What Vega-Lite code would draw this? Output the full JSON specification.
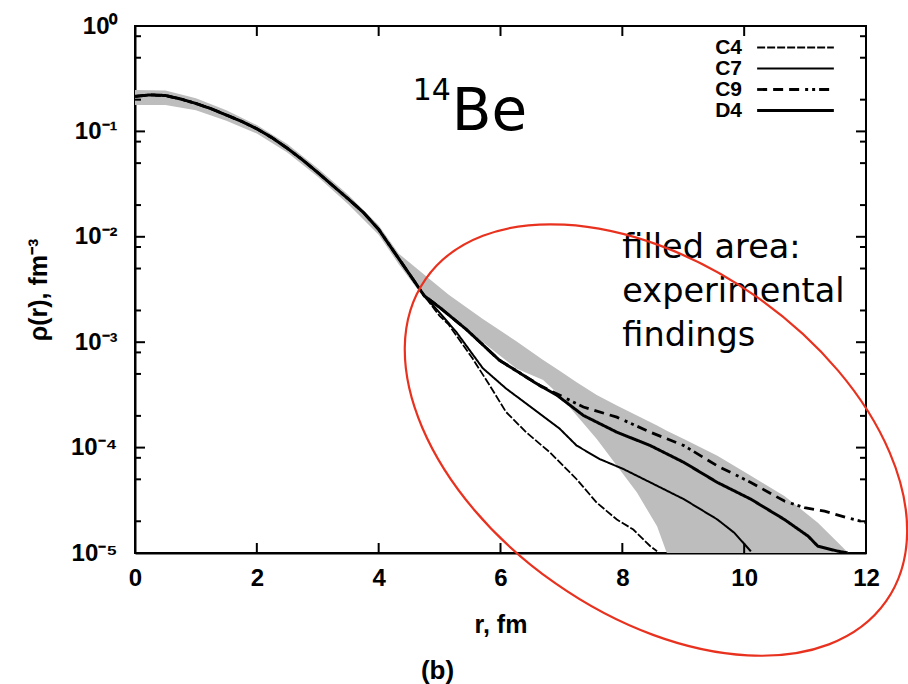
{
  "$schema": "https://vega.github.io/schema/vega-lite/v6.json",
  "width": 731,
  "height": 527,
  "autosize": {"type": "none"},
  "padding": {"left": 135, "top": 26, "right": 42, "bottom": 131},
  "background": "white",
  "title": {
    "text": "(b)",
    "orient": "bottom",
    "anchor": "middle",
    "dx": -63,
    "dy": -6,
    "offset": 4,
    "font": "Liberation Sans",
    "fontWeight": "bold",
    "fontSize": 26,
    "color": "black"
  },
  "config": {
    "view": {"stroke": "black", "strokeWidth": 2},
    "font": "Liberation Sans",
    "rule": {"color": "black", "strokeWidth": 2, "opacity": 1},
    "axis": {
      "grid": false,
      "domainColor": "black",
      "domainWidth": 2,
      "labelColor": "black",
      "labelFont": "Liberation Sans",
      "labelFontWeight": "bold",
      "labelFontSize": 24,
      "labelFlush": false,
      "labelOverlap": false,
      "titleColor": "black",
      "titleFont": "Liberation Sans",
      "titleFontWeight": "bold",
      "titleFontSize": 25
    }
  },
  "datasets": {
    "band": [
      {"r": 0, "lo": 0.178, "hi": 0.247},
      {"r": 0.5, "lo": 0.178, "hi": 0.245},
      {"r": 1.0, "lo": 0.1585, "hi": 0.2065},
      {"r": 1.5, "lo": 0.1259, "hi": 0.1585},
      {"r": 2.0, "lo": 0.0955, "hi": 0.1148},
      {"r": 2.5, "lo": 0.0631, "hi": 0.0759},
      {"r": 3.0, "lo": 0.0372, "hi": 0.0447},
      {"r": 3.5, "lo": 0.0204, "hi": 0.0251},
      {"r": 4.0, "lo": 0.01047, "hi": 0.01288},
      {"r": 4.33, "lo": 0.0055, "hi": 0.00692},
      {"r": 4.77, "lo": 0.00251, "hi": 0.00427},
      {"r": 5.15, "lo": 0.00182, "hi": 0.00282},
      {"r": 5.71, "lo": 0.001, "hi": 0.00166},
      {"r": 6.26, "lo": 0.000562, "hi": 0.001023},
      {"r": 6.7, "lo": 0.000437, "hi": 0.000676},
      {"r": 6.97, "lo": 0.000313, "hi": 0.000537},
      {"r": 7.25, "lo": 0.000202, "hi": 0.000417},
      {"r": 7.58, "lo": 0.0001208, "hi": 0.000316},
      {"r": 7.91, "lo": 0.0000671, "hi": 0.000251},
      {"r": 8.24, "lo": 0.0000374, "hi": 0.000202},
      {"r": 8.57, "lo": 0.00001795, "hi": 0.000162},
      {"r": 8.73, "lo": 0.00001, "hi": 0.0001445},
      {"r": 9.01, "lo": 0.00001, "hi": 0.0001208},
      {"r": 9.56, "lo": 0.00001, "hi": 0.0000838},
      {"r": 10.11, "lo": 0.00001, "hi": 0.000054},
      {"r": 10.66, "lo": 0.00001, "hi": 0.0000348},
      {"r": 11.21, "lo": 0.00001, "hi": 0.00001936},
      {"r": 11.6, "lo": 0.00001, "hi": 0.00001159},
      {"r": 11.71, "lo": 0.00001, "hi": 0.00001}
    ],
    "profiles": [
      {"model": "C4", "r": 0, "rho": 0.215},
      {"model": "C4", "r": 0.25, "rho": 0.222},
      {"model": "C4", "r": 0.5, "rho": 0.219},
      {"model": "C4", "r": 0.75, "rho": 0.203},
      {"model": "C4", "r": 1.0, "rho": 0.1841},
      {"model": "C4", "r": 1.25, "rho": 0.1641},
      {"model": "C4", "r": 1.5, "rho": 0.1429},
      {"model": "C4", "r": 1.75, "rho": 0.1245},
      {"model": "C4", "r": 2.0, "rho": 0.1059},
      {"model": "C4", "r": 2.25, "rho": 0.0871},
      {"model": "C4", "r": 2.5, "rho": 0.0692},
      {"model": "C4", "r": 2.75, "rho": 0.0537},
      {"model": "C4", "r": 3.0, "rho": 0.0407},
      {"model": "C4", "r": 3.25, "rho": 0.0305},
      {"model": "C4", "r": 3.5, "rho": 0.0229},
      {"model": "C4", "r": 3.75, "rho": 0.017},
      {"model": "C4", "r": 4.0, "rho": 0.01175},
      {"model": "C4", "r": 4.25, "rho": 0.00724},
      {"model": "C4", "r": 4.5, "rho": 0.00447},
      {"model": "C4", "r": 4.75, "rho": 0.00275},
      {"model": "C4", "r": 5.0, "rho": 0.001778},
      {"model": "C4", "r": 5.15, "rho": 0.001466},
      {"model": "C4", "r": 5.54, "rho": 0.000703},
      {"model": "C4", "r": 5.82, "rho": 0.000391},
      {"model": "C4", "r": 6.09, "rho": 0.000218},
      {"model": "C4", "r": 6.42, "rho": 0.00014},
      {"model": "C4", "r": 6.81, "rho": 0.0000902},
      {"model": "C4", "r": 7.25, "rho": 0.0000501},
      {"model": "C4", "r": 7.58, "rho": 0.00003},
      {"model": "C4", "r": 7.91, "rho": 0.0000208},
      {"model": "C4", "r": 8.18, "rho": 0.0000167},
      {"model": "C4", "r": 8.46, "rho": 0.00001159},
      {"model": "C4", "r": 8.57, "rho": 0.00001037},

      {"model": "C7", "r": 0, "rho": 0.215},
      {"model": "C7", "r": 0.25, "rho": 0.222},
      {"model": "C7", "r": 0.5, "rho": 0.219},
      {"model": "C7", "r": 0.75, "rho": 0.203},
      {"model": "C7", "r": 1.0, "rho": 0.1841},
      {"model": "C7", "r": 1.25, "rho": 0.1641},
      {"model": "C7", "r": 1.5, "rho": 0.1429},
      {"model": "C7", "r": 1.75, "rho": 0.1245},
      {"model": "C7", "r": 2.0, "rho": 0.1059},
      {"model": "C7", "r": 2.25, "rho": 0.0871},
      {"model": "C7", "r": 2.5, "rho": 0.0692},
      {"model": "C7", "r": 2.75, "rho": 0.0537},
      {"model": "C7", "r": 3.0, "rho": 0.0407},
      {"model": "C7", "r": 3.25, "rho": 0.0305},
      {"model": "C7", "r": 3.5, "rho": 0.0229},
      {"model": "C7", "r": 3.75, "rho": 0.017},
      {"model": "C7", "r": 4.0, "rho": 0.01175},
      {"model": "C7", "r": 4.25, "rho": 0.00724},
      {"model": "C7", "r": 4.5, "rho": 0.00447},
      {"model": "C7", "r": 4.75, "rho": 0.00275},
      {"model": "C7", "r": 5.0, "rho": 0.001905},
      {"model": "C7", "r": 5.27, "rho": 0.001259},
      {"model": "C7", "r": 5.71, "rho": 0.000566},
      {"model": "C7", "r": 6.09, "rho": 0.000364},
      {"model": "C7", "r": 6.53, "rho": 0.000235},
      {"model": "C7", "r": 6.97, "rho": 0.0001514},
      {"model": "C7", "r": 7.25, "rho": 0.0001045},
      {"model": "C7", "r": 7.63, "rho": 0.0000778},
      {"model": "C7", "r": 8.02, "rho": 0.0000625},
      {"model": "C7", "r": 8.46, "rho": 0.0000467},
      {"model": "C7", "r": 9.01, "rho": 0.0000324},
      {"model": "C7", "r": 9.56, "rho": 0.0000208},
      {"model": "C7", "r": 9.84, "rho": 0.00001552},
      {"model": "C7", "r": 10.11, "rho": 0.00001037},

      {"model": "C9", "r": 0, "rho": 0.215},
      {"model": "C9", "r": 0.25, "rho": 0.222},
      {"model": "C9", "r": 0.5, "rho": 0.219},
      {"model": "C9", "r": 0.75, "rho": 0.203},
      {"model": "C9", "r": 1.0, "rho": 0.1841},
      {"model": "C9", "r": 1.25, "rho": 0.1641},
      {"model": "C9", "r": 1.5, "rho": 0.1429},
      {"model": "C9", "r": 1.75, "rho": 0.1245},
      {"model": "C9", "r": 2.0, "rho": 0.1059},
      {"model": "C9", "r": 2.25, "rho": 0.0871},
      {"model": "C9", "r": 2.5, "rho": 0.0692},
      {"model": "C9", "r": 2.75, "rho": 0.0537},
      {"model": "C9", "r": 3.0, "rho": 0.0407},
      {"model": "C9", "r": 3.25, "rho": 0.0305},
      {"model": "C9", "r": 3.5, "rho": 0.0229},
      {"model": "C9", "r": 3.75, "rho": 0.017},
      {"model": "C9", "r": 4.0, "rho": 0.01175},
      {"model": "C9", "r": 4.25, "rho": 0.00724},
      {"model": "C9", "r": 4.5, "rho": 0.00447},
      {"model": "C9", "r": 4.75, "rho": 0.00275},
      {"model": "C9", "r": 5.0, "rho": 0.00214},
      {"model": "C9", "r": 5.44, "rho": 0.00132},
      {"model": "C9", "r": 5.98, "rho": 0.000676},
      {"model": "C9", "r": 6.42, "rho": 0.000468},
      {"model": "C9", "r": 6.64, "rho": 0.000391},
      {"model": "C9", "r": 7.36, "rho": 0.0002427},
      {"model": "C9", "r": 7.91, "rho": 0.0001945},
      {"model": "C9", "r": 8.46, "rho": 0.00014},
      {"model": "C9", "r": 9.01, "rho": 0.0001045},
      {"model": "C9", "r": 9.56, "rho": 0.0000671},
      {"model": "C9", "r": 10.11, "rho": 0.0000467},
      {"model": "C9", "r": 10.66, "rho": 0.0000311},
      {"model": "C9", "r": 10.99, "rho": 0.0000269},
      {"model": "C9", "r": 11.32, "rho": 0.0000249},
      {"model": "C9", "r": 11.71, "rho": 0.0000215},
      {"model": "C9", "r": 12.0, "rho": 0.0000195},

      {"model": "D4", "r": 0, "rho": 0.215},
      {"model": "D4", "r": 0.25, "rho": 0.222},
      {"model": "D4", "r": 0.5, "rho": 0.219},
      {"model": "D4", "r": 0.75, "rho": 0.203},
      {"model": "D4", "r": 1.0, "rho": 0.1841},
      {"model": "D4", "r": 1.25, "rho": 0.1641},
      {"model": "D4", "r": 1.5, "rho": 0.1429},
      {"model": "D4", "r": 1.75, "rho": 0.1245},
      {"model": "D4", "r": 2.0, "rho": 0.1059},
      {"model": "D4", "r": 2.25, "rho": 0.0871},
      {"model": "D4", "r": 2.5, "rho": 0.0692},
      {"model": "D4", "r": 2.75, "rho": 0.0537},
      {"model": "D4", "r": 3.0, "rho": 0.0407},
      {"model": "D4", "r": 3.25, "rho": 0.0305},
      {"model": "D4", "r": 3.5, "rho": 0.0229},
      {"model": "D4", "r": 3.75, "rho": 0.017},
      {"model": "D4", "r": 4.0, "rho": 0.01175},
      {"model": "D4", "r": 4.25, "rho": 0.00724},
      {"model": "D4", "r": 4.5, "rho": 0.00447},
      {"model": "D4", "r": 4.75, "rho": 0.00275},
      {"model": "D4", "r": 5.0, "rho": 0.00214},
      {"model": "D4", "r": 5.44, "rho": 0.00132},
      {"model": "D4", "r": 5.98, "rho": 0.000676},
      {"model": "D4", "r": 6.42, "rho": 0.000468},
      {"model": "D4", "r": 6.64, "rho": 0.000389},
      {"model": "D4", "r": 6.92, "rho": 0.000316},
      {"model": "D4", "r": 7.36, "rho": 0.000202},
      {"model": "D4", "r": 7.91, "rho": 0.00014},
      {"model": "D4", "r": 8.46, "rho": 0.0001045},
      {"model": "D4", "r": 9.01, "rho": 0.0000724},
      {"model": "D4", "r": 9.56, "rho": 0.0000467},
      {"model": "D4", "r": 10.11, "rho": 0.0000324},
      {"model": "D4", "r": 10.66, "rho": 0.0000208},
      {"model": "D4", "r": 11.05, "rho": 0.00001445},
      {"model": "D4", "r": 11.21, "rho": 0.00001159},
      {"model": "D4", "r": 11.54, "rho": 0.0000104},
      {"model": "D4", "r": 11.7, "rho": 0.00001}
    ],
    "xTicks": [{"r": 2}, {"r": 4}, {"r": 6}, {"r": 8}, {"r": 10}],
    "yMajor": [{"rho": 0.1}, {"rho": 0.01}, {"rho": 0.001}, {"rho": 0.0001}],
    "yMinor": [
      {"rho": 0.8}, {"rho": 0.5}, {"rho": 0.2},
      {"rho": 0.08}, {"rho": 0.05}, {"rho": 0.02},
      {"rho": 0.008}, {"rho": 0.005}, {"rho": 0.002},
      {"rho": 0.0008}, {"rho": 0.0005}, {"rho": 0.0002},
      {"rho": 0.00008}, {"rho": 0.00005}, {"rho": 0.00002}
    ]
  },
  "layer": [
    {
      "data": {"name": "band"},
      "mark": {"type": "area", "color": "#bdbdbd", "clip": true},
      "encoding": {
        "x": {
          "field": "r",
          "type": "quantitative",
          "scale": {"domain": [0, 12], "nice": false},
          "axis": {
            "orient": "bottom",
            "values": [0, 2, 4, 6, 8, 10, 12],
            "ticks": false,
            "labelPadding": 13,
            "title": "r, fm",
            "titlePadding": 22
          }
        },
        "y": {
          "field": "lo",
          "type": "quantitative",
          "scale": {"type": "log", "domain": [0.00001, 1], "nice": false},
          "axis": {
            "orient": "left",
            "values": [1, 0.1, 0.01, 0.001, 0.0001, 0.00001],
            "labelExpr": "datum.value == 1 ? '10⁰' : datum.value == 0.1 ? '10⁻¹' : datum.value == 0.01 ? '10⁻²' : datum.value == 0.001 ? '10⁻³' : datum.value == 0.0001 ? '10⁻⁴' : '10⁻⁵'",
            "ticks": false,
            "labelPadding": 18,
            "title": "ρ(r), fm⁻³",
            "titlePadding": 19
          }
        },
        "y2": {"field": "hi"}
      }
    },
    {
      "data": {"name": "xTicks"},
      "mark": {"type": "rule"},
      "encoding": {
        "x": {"field": "r", "type": "quantitative", "scale": {"domain": [0, 12], "nice": false}, "axis": null},
        "y": {"datum": 0.00001, "type": "quantitative", "scale": {"type": "log", "domain": [0.00001, 1], "nice": false}, "axis": null},
        "y2": {"datum": 0.00001244}
      }
    },
    {
      "data": {"name": "xTicks"},
      "mark": {"type": "rule"},
      "encoding": {
        "x": {"field": "r", "type": "quantitative", "scale": {"domain": [0, 12], "nice": false}, "axis": null},
        "y": {"datum": 1, "type": "quantitative", "scale": {"type": "log", "domain": [0.00001, 1], "nice": false}, "axis": null},
        "y2": {"datum": 0.8037}
      }
    },
    {
      "data": {"name": "yMajor"},
      "mark": {"type": "rule"},
      "encoding": {
        "x": {"datum": 0, "type": "quantitative", "scale": {"domain": [0, 12], "nice": false}, "axis": null},
        "x2": {"datum": 0.164},
        "y": {"field": "rho", "type": "quantitative", "scale": {"type": "log", "domain": [0.00001, 1], "nice": false}, "axis": null}
      }
    },
    {
      "data": {"name": "yMajor"},
      "mark": {"type": "rule"},
      "encoding": {
        "x": {"datum": 12, "type": "quantitative", "scale": {"domain": [0, 12], "nice": false}, "axis": null},
        "x2": {"datum": 11.836},
        "y": {"field": "rho", "type": "quantitative", "scale": {"type": "log", "domain": [0.00001, 1], "nice": false}, "axis": null}
      }
    },
    {
      "data": {"name": "yMinor"},
      "mark": {"type": "rule"},
      "encoding": {
        "x": {"datum": 0, "type": "quantitative", "scale": {"domain": [0, 12], "nice": false}, "axis": null},
        "x2": {"datum": 0.0985},
        "y": {"field": "rho", "type": "quantitative", "scale": {"type": "log", "domain": [0.00001, 1], "nice": false}, "axis": null}
      }
    },
    {
      "data": {"name": "yMinor"},
      "mark": {"type": "rule"},
      "encoding": {
        "x": {"datum": 12, "type": "quantitative", "scale": {"domain": [0, 12], "nice": false}, "axis": null},
        "x2": {"datum": 11.9015},
        "y": {"field": "rho", "type": "quantitative", "scale": {"type": "log", "domain": [0.00001, 1], "nice": false}, "axis": null}
      }
    },
    {
      "data": {"name": "profiles"},
      "mark": {"type": "line", "color": "black", "clip": true},
      "encoding": {
        "x": {"field": "r", "type": "quantitative", "scale": {"domain": [0, 12], "nice": false}, "axis": null},
        "y": {"field": "rho", "type": "quantitative", "scale": {"type": "log", "domain": [0.00001, 1], "nice": false}, "axis": null},
        "detail": {"field": "model", "type": "nominal"},
        "strokeDash": {
          "field": "model",
          "type": "nominal",
          "scale": {
            "domain": ["C4", "C7", "C9", "D4"],
            "range": [[8, 2], [1, 0], [10, 6, 10, 6, 10, 6, 3, 4, 3, 4], [1, 0]]
          },
          "legend": {
            "orient": "none",
            "legendX": 650,
            "legendY": 11,
            "title": null,
            "padding": 0,
            "symbolType": "M -8 0 L 8 0",
            "symbolSize": 92,
            "symbolStrokeColor": "black",
            "labelAlign": "right",
            "labelOffset": -64,
            "labelFont": "Liberation Sans",
            "labelFontWeight": "bold",
            "labelFontSize": 21,
            "labelColor": "black",
            "rowPadding": -7
          }
        },
        "strokeWidth": {
          "field": "model",
          "type": "nominal",
          "scale": {
            "type": "ordinal",
            "domain": ["C4", "C7", "C9", "D4"],
            "range": [1.8, 2.0, 2.8, 3.0]
          },
          "legend": {
            "orient": "none",
            "legendX": 650,
            "legendY": 11,
            "title": null,
            "padding": 0,
            "symbolType": "M -8 0 L 8 0",
            "symbolSize": 92,
            "symbolStrokeColor": "black",
            "labelAlign": "right",
            "labelOffset": -64,
            "labelFont": "Liberation Sans",
            "labelFontWeight": "bold",
            "labelFontSize": 21,
            "labelColor": "black",
            "rowPadding": -7
          }
        }
      }
    },
    {
      "data": {"values": [{"label": "14", "r": 4.56, "rho": 0.199}]},
      "mark": {"type": "text", "font": "DejaVu Sans", "fontSize": 30, "align": "left", "baseline": "alphabetic", "color": "black"},
      "encoding": {
        "x": {"field": "r", "type": "quantitative", "scale": {"domain": [0, 12], "nice": false}, "axis": null},
        "y": {"field": "rho", "type": "quantitative", "scale": {"type": "log", "domain": [0.00001, 1], "nice": false}, "axis": null},
        "text": {"field": "label"}
      }
    },
    {
      "data": {"values": [{"label": "Be", "r": 5.2, "rho": 0.103}]},
      "mark": {"type": "text", "font": "DejaVu Sans", "fontSize": 58, "align": "left", "baseline": "alphabetic", "color": "black"},
      "encoding": {
        "x": {"field": "r", "type": "quantitative", "scale": {"domain": [0, 12], "nice": false}, "axis": null},
        "y": {"field": "rho", "type": "quantitative", "scale": {"type": "log", "domain": [0.00001, 1], "nice": false}, "axis": null},
        "text": {"field": "label"}
      }
    },
    {
      "data": {"values": [{"label": "filled area:\nexperimental\nfindings", "r": 8.0, "rho": 0.0063}]},
      "mark": {"type": "text", "font": "DejaVu Sans", "fontSize": 33.5, "align": "left", "baseline": "alphabetic", "lineBreak": "\n", "lineHeight": 44, "color": "black"},
      "encoding": {
        "x": {"field": "r", "type": "quantitative", "scale": {"domain": [0, 12], "nice": false}, "axis": null},
        "y": {"field": "rho", "type": "quantitative", "scale": {"type": "log", "domain": [0.00001, 1], "nice": false}, "axis": null},
        "text": {"field": "label"}
      }
    },
    {
      "data": {"values": [{"r": 8.552, "rho": 0.000118}]},
      "mark": {
        "type": "point",
        "shape": "M -1 0 A 1 0.623 0 1 1 1 0 A 1 0.623 0 1 1 -1 0 Z",
        "size": 315844,
        "angle": 35,
        "filled": false,
        "stroke": "#e8321f",
        "strokeWidth": 2.2,
        "opacity": 1
      },
      "encoding": {
        "x": {"field": "r", "type": "quantitative", "scale": {"domain": [0, 12], "nice": false}, "axis": null},
        "y": {"field": "rho", "type": "quantitative", "scale": {"type": "log", "domain": [0.00001, 1], "nice": false}, "axis": null}
      }
    }
  ],
  "resolve": {"axis": {"x": "independent", "y": "independent"}}
}
